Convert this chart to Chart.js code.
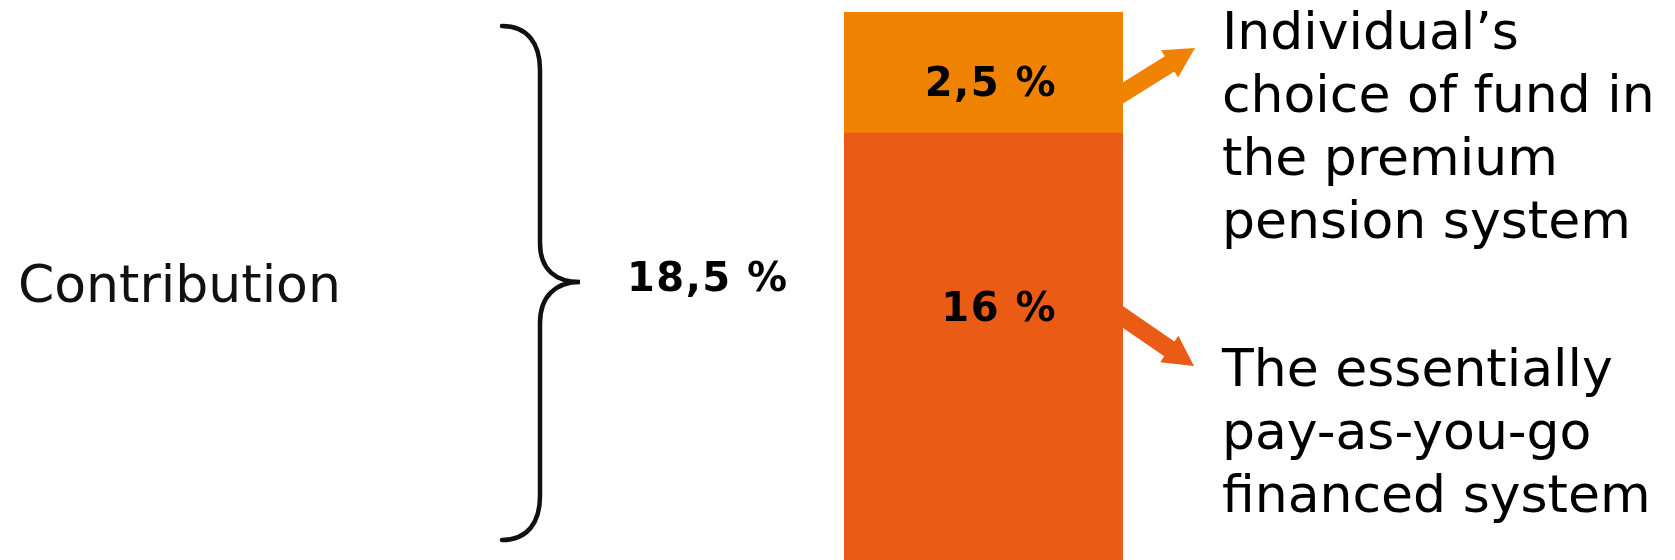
<!DOCTYPE html>
<html lang="en">
<head>
  <meta charset="UTF-8" />
  <title>Pension contribution</title>
  <script src="https://cdn.jsdelivr.net/npm/chart.js"></script>
  <style>
    html, body { margin: 0; padding: 0; background: #fff; }
    #wrap { width: 1675px; height: 560px; }
  </style>
</head>
<body>
  <div id="wrap">
    <canvas id="pensionChart" width="1675" height="560"></canvas>
  </div>

  <script>
    // data
    const categories = ['Contribution'];
    const paygValues = [16];
    const premiumValues = [2.5];
    const premiumText = ['Individual\u2019s', 'choice of fund in', 'the premium', 'pension system'];
    const paygText = ['The essentially', 'pay-as-you-go', 'financed system'];
    const yMin = 7.18;
    const yMax = 18.5;

    const ORANGE = '#ef8300';
    const RED_ORANGE = '#ea5c16';

    function pct(v) {
      return String(v).replace('.', ',') + ' %';
    }

    function drawArrow(ctx, x0, y0, x1, y1, color) {
      const ang = Math.atan2(y1 - y0, x1 - x0);
      const len = Math.hypot(x1 - x0, y1 - y0);
      const shaft = 18, headLen = 30, headW = 32;
      ctx.save();
      ctx.translate(x0, y0);
      ctx.rotate(ang);
      ctx.fillStyle = color;
      ctx.beginPath();
      ctx.moveTo(-6, -shaft / 2);
      ctx.lineTo(len - headLen, -shaft / 2);
      ctx.lineTo(len - headLen, -headW / 2);
      ctx.lineTo(len, 0);
      ctx.lineTo(len - headLen, headW / 2);
      ctx.lineTo(len - headLen, shaft / 2);
      ctx.lineTo(-6, shaft / 2);
      ctx.closePath();
      ctx.fill();
      ctx.restore();
    }

    const annotations = {
      id: 'annotations',
      afterDraw(chart) {
        const ctx = chart.ctx;
        const bar = chart.getDatasetMeta(0).data[0];
        const barRight = bar.x + bar.width / 2;
        const total = paygValues[0] + premiumValues[0];

        ctx.save();

        // left label
        ctx.fillStyle = '#111';
        ctx.font = '52px "DejaVu Sans"';
        ctx.textAlign = 'left';
        ctx.textBaseline = 'alphabetic';
        ctx.fillText(categories[0], 18, 302);

        // curly bracket
        ctx.strokeStyle = '#111';
        ctx.lineWidth = 4.5;
        ctx.lineCap = 'round';
        ctx.beginPath();
        ctx.moveTo(502, 26);
        ctx.bezierCurveTo(528, 26, 540, 44, 540, 70);
        ctx.lineTo(540, 243);
        ctx.bezierCurveTo(540, 270, 556, 282, 580, 282);
        ctx.bezierCurveTo(556, 282, 540, 296, 540, 323);
        ctx.lineTo(540, 496);
        ctx.bezierCurveTo(540, 522, 528, 540, 502, 540);
        ctx.stroke();

        // values
        ctx.fillStyle = '#000';
        ctx.font = 'bold 40px "DejaVu Sans"';
        ctx.letterSpacing = '1.5px';
        ctx.textAlign = 'left';
        ctx.fillText(pct(total), 627, 291);
        ctx.textAlign = 'right';
        ctx.fillText(pct(premiumValues[0]), barRight - 66, 96);
        ctx.fillText(pct(paygValues[0]), barRight - 66, 321);
        ctx.letterSpacing = '0px';

        // arrows
        drawArrow(ctx, barRight, 93, barRight + 72, 48, ORANGE);
        drawArrow(ctx, barRight, 317, barRight + 71, 366, RED_ORANGE);

        // right side texts
        ctx.fillStyle = '#000';
        ctx.font = '52px "DejaVu Sans"';
        ctx.textAlign = 'left';
        premiumText.forEach((t, i) => ctx.fillText(t, 1222, 49 + i * 63));
        paygText.forEach((t, i) => ctx.fillText(t, 1222, 386 + i * 63));
        ctx.restore();
      }
    };

    new Chart(document.getElementById('pensionChart'), {
      type: 'bar',
      data: {
        labels: categories,
        datasets: [
          { label: paygText.join(' '), data: paygValues, backgroundColor: RED_ORANGE, borderWidth: 0 },
          { label: premiumText.join(' '), data: premiumValues, backgroundColor: ORANGE, borderWidth: 0 }
        ]
      },
      options: {
        responsive: false,
        devicePixelRatio: 1,
        animation: false,
        layout: { padding: { left: 844, right: 552, top: 12, bottom: 0 } },
        datasets: { bar: { categoryPercentage: 1, barPercentage: 1 } },
        scales: {
          x: { stacked: true, display: false },
          y: { stacked: true, display: false, min: yMin, max: yMax }
        },
        plugins: {
          legend: { display: false },
          tooltip: { enabled: false }
        }
      },
      plugins: [annotations]
    });
  </script>
</body>
</html>
